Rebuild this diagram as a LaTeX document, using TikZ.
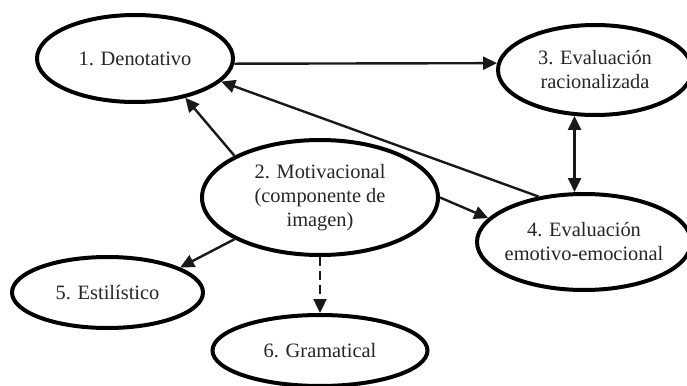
\documentclass[tikz,border=0pt]{standalone}
\usepackage{fontspec}
\setmainfont{Liberation Serif}
\usetikzlibrary{arrows.meta,shapes.geometric}
\begin{document}
\begin{tikzpicture}[x=0.5pt,y=-0.5pt,
  ov/.style={ellipse,draw=black,line width=2pt,fill=white,inner sep=0pt},
  txt/.style={align=center,font=\fontsize{10.2}{12}\selectfont,inner sep=0pt,text=black!85},
  conn/.style={line width=1.2pt,draw=black!90,-{Triangle[length=7pt,width=6.5pt]}},
  dconn/.style={conn,dash pattern=on 4.5pt off 2.5pt}]
\useasboundingbox (0,0) rectangle (687,386);
\node[ov,minimum width=98pt,minimum height=43.5pt,label={[txt]center:{1. Denotativo}}] (n1) at (135,58.5) {};
\node[ov,minimum width=118pt,minimum height=57.5pt,label={[txt]center:{2. Motivacional\\(componente de\\imagen)}}] (n2) at (320,197.5) {};
\node[ov,minimum width=97pt,minimum height=45pt,label={[txt]center:{3. Evaluación\\racionalizada}}] (n3) at (595,70) {};
\node[ov,minimum width=107pt,minimum height=48pt,label={[txt]center:{4. Evaluación\\emotivo-emocional}}] (n4) at (584,242) {};
\node[ov,minimum width=95.5pt,minimum height=35.5pt,label={[txt]center:{5. Estilístico}}] (n5) at (107.5,292.5) {};
\node[ov,minimum width=107.5pt,minimum height=35.5pt,label={[txt]center:{6. Gramatical}}] (n6) at (320,350.5) {};
\draw[conn] (n1.-3) -- (n3.176.5);
\draw[conn] (n2.154.5) -- (n1.-38.1);
\draw[conn] (n4.135.6) -- (n1.-15.1);
\draw[conn,{Triangle[length=7pt,width=6.5pt]}-{Triangle[length=7pt,width=6.5pt]}] (n3.-114.4) -- (n3.-114.4 |- n4.north);
\draw[conn] (n2.-0.7) -- (n4.166.7);
\draw[conn] (n2.206) -- (n5.19.4);
\draw[dconn] (n2.south) -- (n6.north);
\end{tikzpicture}
\end{document}
